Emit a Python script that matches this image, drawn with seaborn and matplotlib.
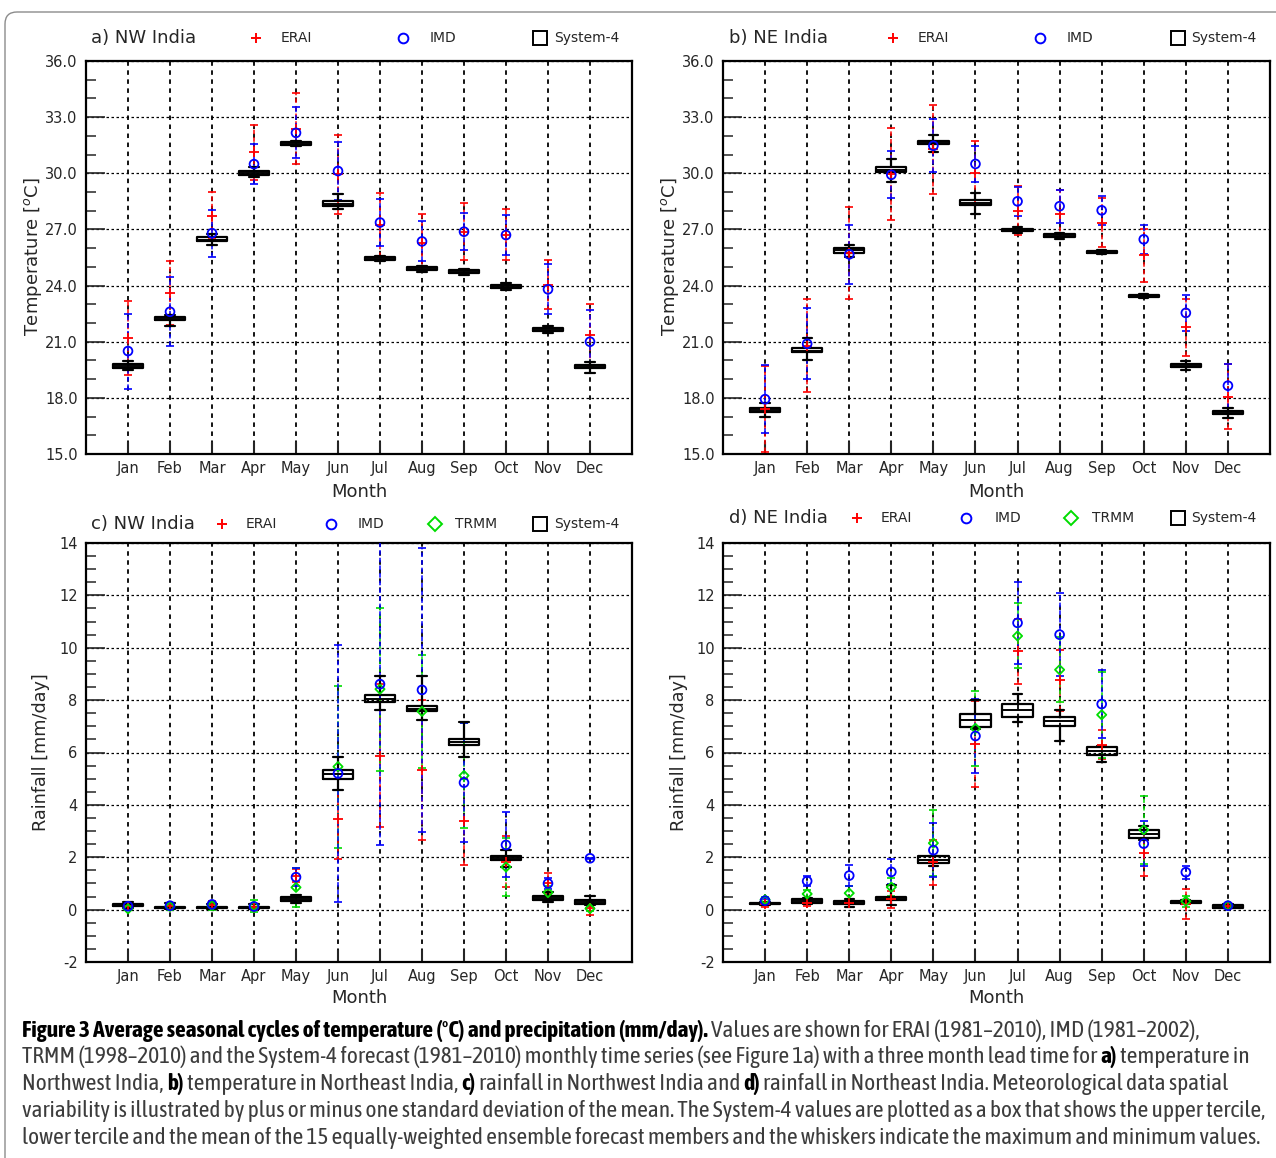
import numpy as np
import matplotlib
matplotlib.use("Agg")
import matplotlib.pyplot as plt
import seaborn as sns
from matplotlib import font_manager, patheffects
from matplotlib.font_manager import FontProperties
from matplotlib.lines import Line2D
from matplotlib.patches import FancyBboxPatch
from matplotlib.transforms import IdentityTransform
from matplotlib.ticker import MultipleLocator, FormatStrFormatter

months = ["Jan", "Feb", "Mar", "Apr", "May", "Jun", "Jul", "Aug", "Sep", "Oct", "Nov", "Dec"]

# a) NW India temperature
s4_nwt_mean = [19.72, 22.23, 26.46, 30.01, 31.59, 28.38, 25.46, 24.92, 24.74, 23.97, 21.65, 19.68]
s4_nwt_lo = [19.62, 22.14, 26.36, 29.91, 31.51, 28.24, 25.37, 24.85, 24.65, 23.86, 21.56, 19.59]
s4_nwt_hi = [19.82, 22.31, 26.57, 30.12, 31.68, 28.50, 25.53, 24.99, 24.81, 24.05, 21.73, 19.78]
s4_nwt_min = [19.47, 21.84, 26.15, 29.82, 31.44, 28.10, 25.32, 24.72, 24.56, 23.76, 21.44, 19.33]
s4_nwt_max = [19.95, 22.44, 26.74, 30.31, 31.75, 28.87, 25.58, 25.06, 24.86, 24.14, 21.82, 19.91]
erai_nwt_mean = [21.20, 23.60, 27.73, 31.12, 32.38, 29.94, 27.25, 26.30, 26.88, 26.72, 24.05, 21.35]
erai_nwt_sd = [1.98, 1.73, 1.26, 1.46, 1.89, 2.11, 1.70, 1.55, 1.53, 1.38, 1.30, 1.67]
imd_nwt_mean = [20.50, 22.60, 26.80, 30.49, 32.16, 30.12, 27.37, 26.36, 26.88, 26.70, 23.80, 21.00]
imd_nwt_sd = [2.00, 1.85, 1.25, 1.05, 1.36, 1.57, 1.24, 1.07, 1.00, 1.05, 1.33, 1.67]

# b) NE India temperature
s4_net_mean = [17.35, 20.53, 25.88, 30.20, 31.65, 28.43, 26.97, 26.67, 25.81, 23.43, 19.74, 17.21]
s4_net_lo = [17.24, 20.43, 25.76, 30.08, 31.54, 28.29, 26.90, 26.60, 25.76, 23.38, 19.67, 17.14]
s4_net_hi = [17.46, 20.66, 26.00, 30.31, 31.73, 28.57, 27.04, 26.74, 25.86, 23.49, 19.81, 17.28]
s4_net_min = [16.96, 20.02, 25.54, 29.54, 31.15, 27.85, 26.83, 26.51, 25.68, 23.31, 19.48, 16.93]
s4_net_max = [17.75, 21.18, 26.19, 30.75, 32.03, 28.96, 27.11, 26.81, 25.91, 23.57, 19.97, 17.46]
erai_net_mean = [17.42, 20.78, 25.74, 29.95, 31.28, 30.00, 28.00, 27.80, 27.37, 25.62, 21.76, 18.07]
erai_net_sd = [2.29, 2.48, 2.44, 2.45, 2.37, 1.70, 1.32, 1.32, 1.29, 1.42, 1.54, 1.74]
imd_net_mean = [17.93, 20.89, 25.67, 29.92, 31.47, 30.50, 28.50, 28.24, 28.02, 26.47, 22.54, 18.65]
imd_net_sd = [1.83, 1.89, 1.59, 1.25, 1.42, 0.95, 0.79, 0.87, 0.78, 0.79, 0.95, 1.18]

# c) NW India rainfall
s4_nwr_mean = [0.16, 0.09, 0.08, 0.09, 0.41, 5.17, 8.06, 7.68, 6.40, 1.96, 0.46, 0.29]
s4_nwr_lo = [0.12, 0.06, 0.05, 0.06, 0.34, 4.99, 7.94, 7.58, 6.29, 1.90, 0.38, 0.23]
s4_nwr_hi = [0.20, 0.11, 0.10, 0.11, 0.47, 5.34, 8.19, 7.78, 6.52, 2.03, 0.53, 0.35]
s4_nwr_min = [0.05, 0.02, 0.02, 0.02, 0.25, 4.58, 7.62, 7.24, 5.82, 1.63, 0.29, 0.19]
s4_nwr_max = [0.30, 0.25, 0.20, 0.22, 0.54, 5.82, 8.93, 8.91, 7.15, 2.26, 0.67, 0.51]
erai_nwr_mean = [0.15, 0.12, 0.18, 0.10, 1.30, 3.47, 5.88, 5.33, 3.37, 1.83, 1.00, 0.05]
erai_nwr_sd = [0.15, 0.10, 0.14, 0.12, 0.25, 1.53, 2.72, 2.67, 1.66, 0.98, 0.40, 0.25]
imd_nwr_mean = [0.13, 0.15, 0.20, 0.12, 1.24, 5.20, 8.61, 8.39, 4.85, 2.47, 1.00, 1.96]
imd_nwr_sd = [0.10, 0.08, 0.10, 0.10, 0.35, 4.92, 6.15, 5.42, 2.28, 1.24, 0.20, 0.02]
trmm_nwr_mean = [0.03, 0.12, 0.15, 0.14, 0.85, 5.46, 8.42, 7.57, 5.12, 1.63, 0.65, 0.04]
trmm_nwr_sd = [0.05, 0.12, 0.15, 0.24, 0.74, 3.09, 3.11, 2.17, 1.99, 1.10, 0.25, 0.10]

# d) NE India rainfall
s4_ner_mean = [0.23, 0.33, 0.27, 0.43, 1.90, 7.25, 7.64, 7.19, 6.07, 2.89, 0.29, 0.13]
s4_ner_lo = [0.20, 0.25, 0.22, 0.38, 1.77, 6.96, 7.37, 7.01, 5.90, 2.73, 0.25, 0.08]
s4_ner_hi = [0.26, 0.42, 0.32, 0.48, 2.03, 7.47, 7.87, 7.37, 6.22, 3.03, 0.33, 0.18]
s4_ner_min = [0.18, 0.20, 0.10, 0.19, 1.67, 6.90, 7.17, 6.45, 5.65, 2.66, 0.20, 0.05]
s4_ner_max = [0.28, 0.45, 0.42, 0.95, 2.05, 8.00, 8.22, 7.62, 6.25, 3.20, 0.38, 0.20]
erai_ner_mean = [0.20, 0.25, 0.25, 0.39, 1.80, 6.33, 9.86, 8.75, 6.30, 2.15, 0.22, 0.15]
erai_ner_sd = [0.10, 0.12, 0.15, 0.33, 0.85, 1.63, 1.25, 1.16, 0.55, 0.88, 0.56, 0.08]
imd_ner_mean = [0.34, 1.09, 1.30, 1.44, 2.27, 6.63, 10.95, 10.50, 7.85, 2.52, 1.43, 0.15]
imd_ner_sd = [0.05, 0.19, 0.40, 0.48, 1.03, 1.42, 1.56, 1.59, 1.30, 0.87, 0.25, 0.06]
trmm_ner_mean = [0.38, 0.60, 0.63, 0.86, 2.54, 6.92, 10.45, 9.16, 7.44, 3.05, 0.32, 0.15]
trmm_ner_sd = [0.10, 0.16, 0.26, 0.35, 1.26, 1.42, 1.24, 1.25, 1.64, 1.30, 0.21, 0.07]

W, H = 1276, 1158
ERAI_C, IMD_C, TRMM_C = "#ff0000", "#0000ff", "#00dd00"

sns.set_style("ticks")
plt.rcParams["font.family"] = ["DejaVu Sans"]
plt.rcParams["mathtext.fontset"] = "dejavusans"

fig = plt.figure(figsize=(W / 100, H / 100), dpi=100)


def fx(x):
    return x / W


def fy(y):
    return 1 - y / H


def add_axes(left, top, right, bottom):
    return fig.add_axes([fx(left), fy(bottom), (right - left) / W, (bottom - top) / H])


def draw_panel(ax, s4, obs, ylim, major, minor, fmt):
    x = np.arange(12)
    ax.set_xlim(-1, 12)
    ax.set_ylim(*ylim)

    ax.set_axisbelow(True)
    ax.grid(axis="y", which="major", color="k", ls=(0, (2, 2)), lw=0.9)
    ax.grid(axis="x", which="major", color="k", ls=(0, (2.5, 2.5)), lw=1.3)

    # observational mean +/- one standard deviation
    for mean, sd, color, marker, size in obs:
        eb = ax.errorbar(x, mean, yerr=sd, fmt="none", ecolor=color,
                         elinewidth=1.1, capsize=3, capthick=1.2, zorder=3)
        eb.lines[2][0].set_linestyle((0, (3, 2)))
        sns.scatterplot(x=x, y=mean, ax=ax, marker=marker, s=size, color=color,
                        edgecolor=color, linewidth=1.3, zorder=6, legend=False)
        if marker != "+":
            ax.collections[-1].set_facecolor("none")

    # System-4 tercile box, mean and min/max whiskers
    lo, mean, hi, mn, mx = s4
    stats = [dict(med=m, q1=a, q3=b, whislo=c, whishi=d, fliers=[])
             for a, m, b, c, d in zip(lo, mean, hi, mn, mx)]
    ax.bxp(stats, positions=x, widths=0.72, showfliers=False, capwidths=0.22,
           boxprops=dict(color="k", lw=1.6), whiskerprops=dict(color="k", lw=1.6),
           capprops=dict(color="k", lw=1.6), medianprops=dict(color="k", lw=1.4),
           manage_ticks=False, zorder=4)

    ax.set_xticks(x)
    ax.set_xticklabels(months)
    ax.yaxis.set_major_locator(MultipleLocator(major))
    ax.yaxis.set_minor_locator(MultipleLocator(minor))
    ax.yaxis.set_major_formatter(FormatStrFormatter(fmt))
    ax.tick_params(axis="y", which="major", direction="in", length=14, width=1.2,
                   labelsize=10.5, pad=6, left=True, right=False)
    ax.tick_params(axis="y", which="minor", direction="in", length=7, width=1.1,
                   left=True, right=False)
    ax.tick_params(axis="x", which="major", direction="in", length=9, width=1.5,
                   labelsize=10.5, pad=5, bottom=True, top=False)
    for sp in ax.spines.values():
        sp.set_visible(True)
        sp.set_color("k")
        sp.set_linewidth(1.6)


def header(y, title, items, tx):
    fig.text(fx(tx), fy(y), title, fontsize=13, va="center", ha="left")
    for mx_, marker, color, label, lx in items:
        fig.add_artist(Line2D([fx(mx_)], [fy(y)], marker=marker, color=color,
                              markerfacecolor="none", markersize=7 if marker != "s" else 10,
                              markeredgewidth=1.4, ls="none", transform=fig.transFigure))
        fig.text(fx(lx), fy(y), label, fontsize=10, va="center", ha="left")


ax_a = add_axes(86, 61, 632, 454)
draw_panel(ax_a, (s4_nwt_lo, s4_nwt_mean, s4_nwt_hi, s4_nwt_min, s4_nwt_max),
           [(erai_nwt_mean, erai_nwt_sd, ERAI_C, "+", 45),
            (imd_nwt_mean, imd_nwt_sd, IMD_C, "o", 40)],
           (15, 36), 3, 1, "%.1f")
ax_b = add_axes(723, 61, 1270, 454)
draw_panel(ax_b, (s4_net_lo, s4_net_mean, s4_net_hi, s4_net_min, s4_net_max),
           [(erai_net_mean, erai_net_sd, ERAI_C, "+", 45),
            (imd_net_mean, imd_net_sd, IMD_C, "o", 40)],
           (15, 36), 3, 1, "%.1f")
ax_c = add_axes(86, 543, 632, 962)
draw_panel(ax_c, (s4_nwr_lo, s4_nwr_mean, s4_nwr_hi, s4_nwr_min, s4_nwr_max),
           [(erai_nwr_mean, erai_nwr_sd, ERAI_C, "+", 45),
            (trmm_nwr_mean, trmm_nwr_sd, TRMM_C, "D", 22),
            (imd_nwr_mean, imd_nwr_sd, IMD_C, "o", 40)],
           (-2, 14), 2, 0.5, "%d")
ax_d = add_axes(723, 543, 1270, 962)
draw_panel(ax_d, (s4_ner_lo, s4_ner_mean, s4_ner_hi, s4_ner_min, s4_ner_max),
           [(erai_ner_mean, erai_ner_sd, ERAI_C, "+", 45),
            (trmm_ner_mean, trmm_ner_sd, TRMM_C, "D", 22),
            (imd_ner_mean, imd_ner_sd, IMD_C, "o", 40)],
           (-2, 14), 2, 0.5, "%d")

# axis labels
for x0, y0 in [(359, 492), (996, 492), (359, 998), (996, 998)]:
    fig.text(fx(x0), fy(y0), "Month", fontsize=13, ha="center", va="center")
for x0 in (33, 670):
    fig.text(fx(x0), fy(257), "Temperature [$^{o}$C]", fontsize=13, rotation=90,
             ha="center", va="center")
for x0 in (41, 679):
    fig.text(fx(x0), fy(752), "Rainfall [mm/day]", fontsize=12.7, rotation=90,
             ha="center", va="center")

# panel headers with inline legends
header(38, "a) NW India", [(256, "+", ERAI_C, "ERAI", 281), (403, "o", IMD_C, "IMD", 430),
                           (540, "s", "k", "System-4", 554)], 91)
header(38, "b) NE India", [(893, "+", ERAI_C, "ERAI", 918), (1040, "o", IMD_C, "IMD", 1067),
                           (1178, "s", "k", "System-4", 1191)], 729)
header(524, "c) NW India", [(222, "+", ERAI_C, "ERAI", 246), (331, "o", IMD_C, "IMD", 358),
                            (435, "D", TRMM_C, "TRMM", 455), (540, "s", "k", "System-4", 554)], 91)
header(518, "d) NE India", [(857, "+", ERAI_C, "ERAI", 881), (966, "o", IMD_C, "IMD", 995),
                            (1071, "D", TRMM_C, "TRMM", 1092), (1178, "s", "k", "System-4", 1191)], 729)

# caption, in a narrow face if one is installed
narrow = {}
for f in font_manager.fontManager.ttflist:
    if ("Narrow" in f.name or "Condensed" in f.name or "condensed" in str(f.stretch)) \
            and f.style == "normal":
        narrow.setdefault((f.name, f.stretch), set()).add(f.weight)
cap_font, cap_stretch = "Liberation Sans", "normal"
if narrow:
    def has_bold(k):
        return any((w if isinstance(w, (int, float)) else 700 if "bold" in str(w) else 400) >= 600
                   for w in narrow[k])
    best = sorted(narrow, key=lambda k: (not has_bold(k), k[0]))[0]
    cap_font, cap_stretch = best

regular_path = font_manager.findfont(FontProperties(family=cap_font, stretch=cap_stretch))
bold_path = font_manager.findfont(FontProperties(family=cap_font, stretch=cap_stretch, weight="bold"))
fake_bold = regular_path == bold_path

caption_lines = [
    [("Figure 3 Average seasonal cycles of temperature (°C) and precipitation (mm/day).", True),
     ("Values are shown for ERAI (1981–2010), IMD (1981–2002),", False)],
    [("TRMM (1998–2010) and the System-4 forecast (1981–2010) monthly time series (see Figure 1a) "
      "with a three month lead time for", False), ("a)", True), ("temperature in", False)],
    [("Northwest India,", False), ("b)", True), ("temperature in Northeast India,", False),
     ("c)", True), ("rainfall in Northwest India and", False), ("d)", True),
     ("rainfall in Northeast India. Meteorological data spatial", False)],
    [("variability is illustrated by plus or minus one standard deviation of the mean. The System-4 "
      "values are plotted as a box that shows the upper tercile,", False)],
    [("lower tercile and the mean of the 15 equally-weighted ensemble forecast members and the "
      "whiskers indicate the maximum and minimum values.", False)],
]
caption_y = [1031, 1057, 1084, 1111, 1138]

renderer = fig.canvas.get_renderer()


def cap_text(x, y, s, size, bold, **kw):
    t = fig.text(x, y, s, fontsize=size, family=cap_font, stretch=cap_stretch,
                 weight="bold" if bold else "normal", **kw)
    if bold and fake_bold:
        t.set_path_effects([patheffects.withStroke(linewidth=0.9, foreground="k")])
    return t


def text_width(s, size, bold):
    t = cap_text(0, 0, s, size, bold)
    w = t.get_window_extent(renderer).width
    t.remove()
    return w


cap_size = 12 * 1241 / text_width(caption_lines[3][0][0], 12, False)
space = text_width("a a", cap_size, False) - text_width("aa", cap_size, False)
for pieces, y0 in zip(caption_lines, caption_y):
    x0 = 22
    for txt, bold in pieces:
        t = cap_text(fx(x0), fy(y0), txt, cap_size, bold,
                     color="k" if bold else "#3c3c3c", va="center", ha="left")
        x0 += t.get_window_extent(renderer).width + space + (1 if bold and fake_bold else 0)

frame = FancyBboxPatch((5, -40), 1320, H - 12 + 40, boxstyle="round,pad=0,rounding_size=12",
                       transform=IdentityTransform(), fill=False, ec="#8c8c8c", lw=1.0)
fig.add_artist(frame)

fig.savefig("out.png", dpi=100)
